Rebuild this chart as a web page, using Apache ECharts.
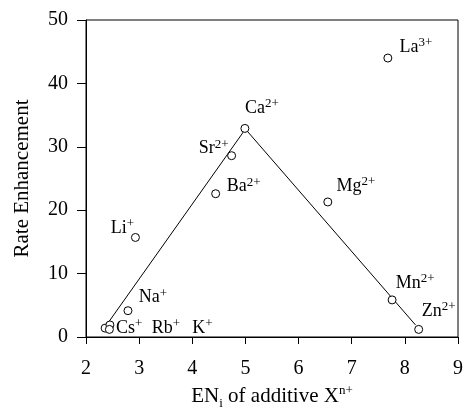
<!DOCTYPE html>
<html><head><meta charset="utf-8">
<script src="https://cdn.jsdelivr.net/npm/echarts@6/dist/echarts.min.js"></script>
<style>html,body{margin:0;padding:0;background:#fff}#c{width:465px;height:409px}</style>
</head><body><div id="c"></div>
<script>
// Data
var ionNames = ['La', 'Ca', 'Sr', 'Ba', 'Mg', 'Li', 'Na', 'Cs', 'Rb', 'K', 'Mn', 'Zn'];
var ionCharges = ['3+', '2+', '2+', '2+', '2+', '+', '+', '+', '+', '+', '2+', '2+'];
var enValues = [7.68, 4.99, 4.74, 4.44, 6.55, 2.93, 2.79, 2.36, 2.45, 2.44, 7.76, 8.26];
var rateValues = [44.0, 32.9, 28.6, 22.6, 21.3, 15.7, 4.15, 1.4, 1.9, 1.2, 5.85, 1.2];
var trendX = [2.43, 5.0, 8.2];
var trendY = [2.4, 32.8, 1.9];
var xTicks = [2, 3, 4, 5, 6, 7, 8, 9];
var yTicks = [0, 10, 20, 30, 40, 50];

// label placement (styling only): offsets of label centre from point
var labelOffsets = [[28,-11],[17,-20],[-18,-7],[28,-7],[28,-16],[-13,-9],[25,-13],[24,0],[56,3],[93,-1],[23,-17],[20,-18]];

var FONT = '"Liberation Serif", "DejaVu Serif", serif';
var rich = {
  b: {fontFamily: FONT, fontSize: 18, color: '#000'},
  s: {fontFamily: FONT, fontSize: 13, color: '#000', padding: [0, 0, 9, 0]}
};

var scatterData = enValues.map(function (x, i) {
  return {
    value: [x, rateValues[i]],
    label: {
      show: true,
      position: 'inside',
      offset: labelOffsets[i],
      color: '#000',
      opacity: 1,
      textBorderWidth: 0,
      formatter: '{b|' + ionNames[i] + '}{s|' + ionCharges[i] + '}',
      rich: rich
    }
  };
});

var chart = echarts.init(document.getElementById('c'), null, {renderer: 'canvas'});
chart.setOption({
  animation: false,
  backgroundColor: '#fff',
  grid: {left: 86, right: 7, top: 20, bottom: 72, show: true, borderColor: '#000', borderWidth: 1,
         containLabel: false, outerBoundsMode: 'none'},
  xAxis: {
    type: 'value', min: xTicks[0], max: xTicks[xTicks.length - 1], interval: 1,
    splitLine: {show: false},
    axisLine: {lineStyle: {color: '#000', width: 1}},
    axisTick: {show: true, length: 7, lineStyle: {color: '#000'}},
    axisLabel: {fontFamily: FONT, fontSize: 20, color: '#000', margin: 22},
    name: '{b|EN}{sub|i}{b| of additive X}{sup|n+}',
    nameLocation: 'middle', nameGap: 46,
    nameTextStyle: {
      rich: {
        b: {fontFamily: FONT, fontSize: 21, color: '#000'},
        sub: {fontFamily: FONT, fontSize: 13, color: '#000', padding: [14, 0, 0, 0]},
        sup: {fontFamily: FONT, fontSize: 13, color: '#000', padding: [0, 0, 12, 0]}
      }
    }
  },
  yAxis: {
    type: 'value', min: yTicks[0], max: yTicks[yTicks.length - 1], interval: 10,
    splitLine: {show: false},
    axisLine: {show: true, lineStyle: {color: '#000', width: 1}},
    axisTick: {show: true, length: 9, lineStyle: {color: '#000'}},
    axisLabel: {fontFamily: FONT, fontSize: 20, color: '#000', margin: 18},
    name: 'Rate Enhancement',
    nameLocation: 'middle', nameGap: 53, nameRotate: 90,
    nameTextStyle: {fontFamily: FONT, fontSize: 21, color: '#000'}
  },
  series: [
    {
      type: 'line',
      data: trendX.map(function (x, i) { return [x, trendY[i]]; }),
      showSymbol: false, symbol: 'none',
      lineStyle: {color: '#000', width: 1},
      z: 1
    },
    {
      type: 'scatter',
      data: scatterData,
      symbol: 'circle', symbolSize: 8,
      itemStyle: {color: '#fff', borderColor: '#000', borderWidth: 1, opacity: 1},
      z: 2
    }
  ]
});
</script></body></html>
